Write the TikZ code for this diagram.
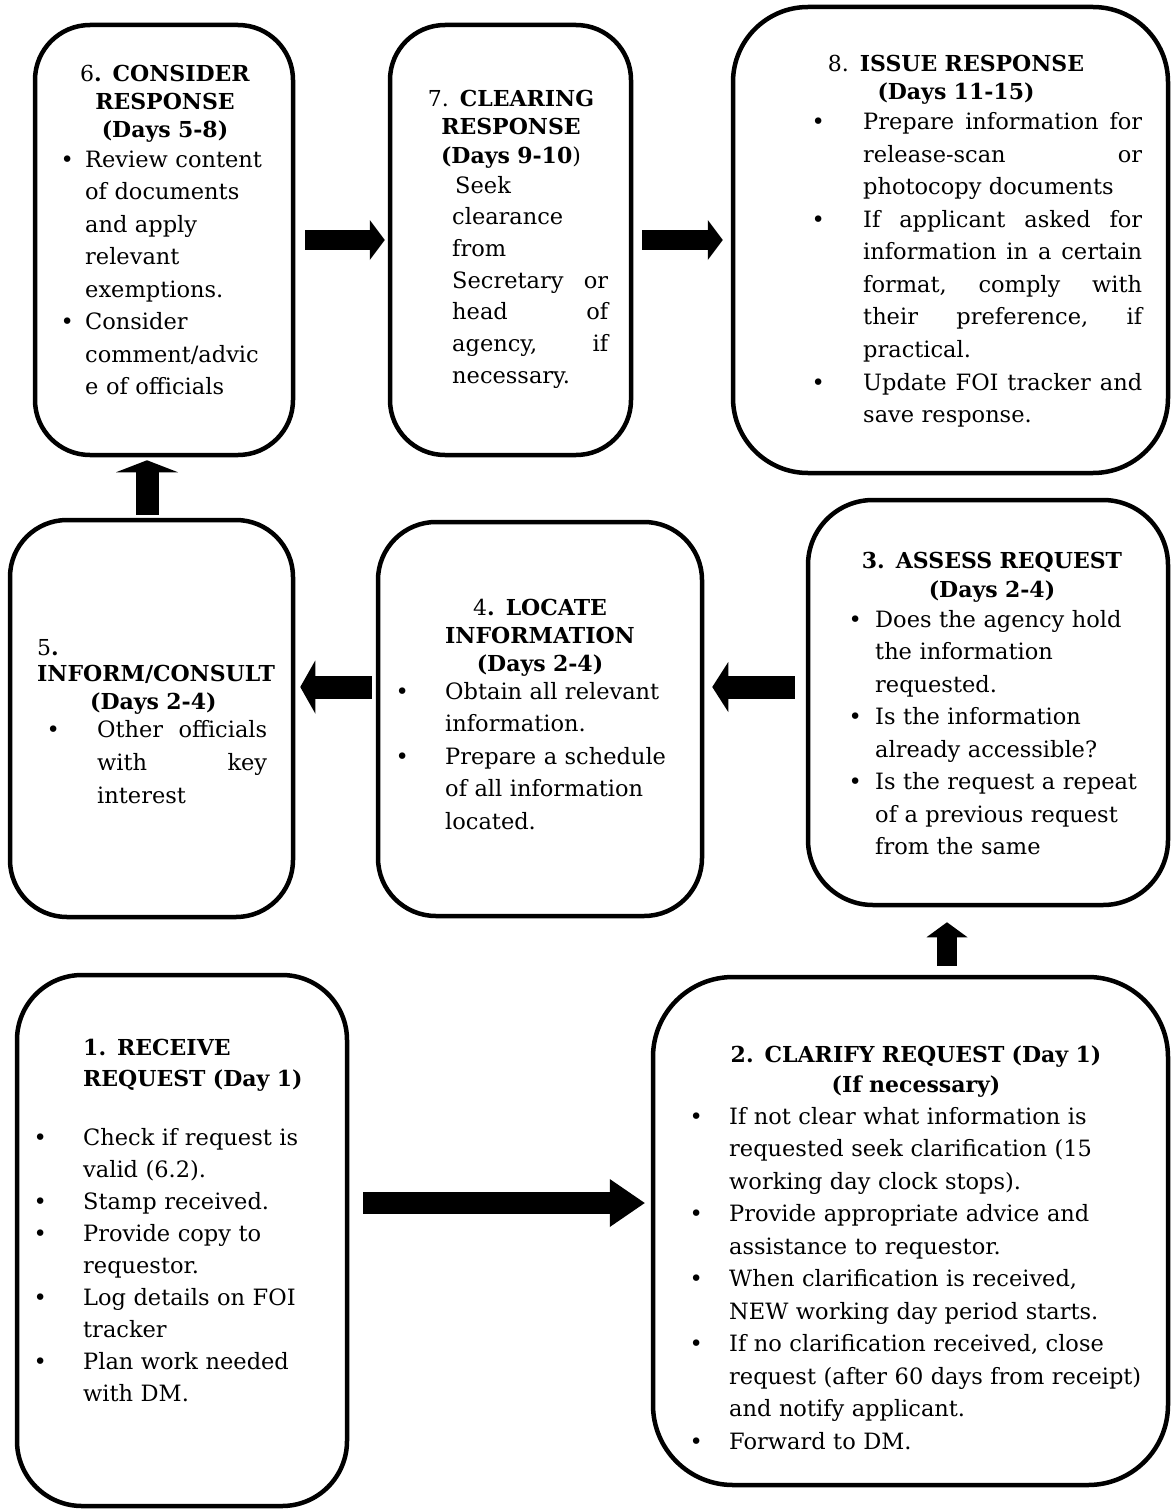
\documentclass[tikz,border=0pt]{standalone}
\usepackage{fontspec}
\setmainfont{DejaVu Serif}
\usetikzlibrary{arrows.meta}

\newcommand{\bodysize}{\fontsize{22.5}{32.5}\selectfont}
\newcommand{\titlesize}{\fontsize{22}{28}\selectfont}
\newcommand{\jline}[2]{\leavevmode\hbox to #1{#2}}
\newcommand{\stepbullet}[1]{\leavevmode\llap{\makebox[0pt]{\textbullet}\hspace{#1}}}

\begin{document}
\begin{tikzpicture}[x=1pt, y=-1pt,
                    stepbox/.style={draw, line width=4.5pt, inner sep=0pt},
                    steptitle/.style={anchor=base, align=center, text width=#1, inner sep=0pt, font=\titlesize},
                    stepbody/.style={anchor=base west, align=left, text width=#1, inner sep=0pt, font=\bodysize},
                    flow arrow/.style n args={3}{line width=#1, -{Triangle[width=#2, length=#3, line width=0pt]}},
                   ]
  \useasboundingbox (0,0) rectangle (1172,1509);

  \node[stepbox, minimum width=258pt, minimum height=430pt, rounded corners=55pt] (consider) at (164, 240) {};
  \node[stepbox, minimum width=241pt, minimum height=430pt, rounded corners=55pt] (clearing) at (510.5, 240) {};
  \node[stepbox, minimum width=435pt, minimum height=466pt, rounded corners=75pt] (issue) at (950.5, 240) {};
  \node[stepbox, minimum width=283pt, minimum height=397pt, rounded corners=57pt] (inform) at (151.5, 718.5) {};
  \node[stepbox, minimum width=324pt, minimum height=394pt, rounded corners=58pt] (locate) at (540, 719) {};
  \node[stepbox, minimum width=360pt, minimum height=405pt, rounded corners=65pt] (assess) at (988, 702.5) {};
  \node[stepbox, minimum width=330pt, minimum height=531pt, rounded corners=65pt] (receive) at (182, 1240.5) {};
  \node[stepbox, minimum width=515pt, minimum height=508pt, rounded corners=80pt] (clarify) at (910.5, 1231) {};

  \node[steptitle=250pt] (consider-title) at (165, 82) {6\textbf{. CONSIDER}\\ \textbf{RESPONSE}\\ \textbf{(Days 5-8)}};
  \node[stepbody=205pt] (consider-text) at (85, 167) {
    \stepbullet{18pt}Review content\\
    of documents\\
    and apply\\
    relevant\\
    exemptions.\\
    \stepbullet{18pt}Consider\\
    comment/advic\\
    e of officials
  };

  \node[steptitle=235pt] (clearing-title) at (511, 107) {7. \textbf{CLEARING}\\ \textbf{RESPONSE}\\ \textbf{(Days 9-10}) };
  \node[stepbody=170pt, font=\fontsize{22.5}{31.7}\selectfont] (clearing-text) at (452, 193) {
    \hspace*{3pt}Seek\\
    clearance\\
    from\\
    \jline{156pt}{Secretary\hfill or}\\
    \jline{156pt}{head\hfill of}\\
    \jline{156pt}{agency,\hfill if}\\
    necessary.
  };

  \node[steptitle=420pt] (issue-title) at (956, 72) {8. \textbf{ISSUE RESPONSE}\\ \textbf{(Days 11-15)}};
  \node[stepbody=290pt] (issue-text) at (863, 130) {
    \stepbullet{45pt}\jline{279pt}{Prepare\hfill information\hfill for}\\
    \jline{279pt}{release-scan\hfill or}\\
    photocopy documents\\
    \stepbullet{45pt}\jline{279pt}{If\hfill applicant\hfill asked\hfill for}\\
    \jline{279pt}{information\hfill in\hfill a\hfill certain}\\
    \jline{279pt}{format,\hfill comply\hfill with}\\
    \jline{279pt}{their\hfill preference,\hfill if}\\
    practical.\\
    \stepbullet{45pt}\jline{279pt}{Update\hfill FOI\hfill tracker\hfill and}\\
    save response.
  };

  \node[steptitle=250pt, anchor=base west, align=left] (inform-title) at (37, 655) {5\textbf{.}\\[-2pt] \textbf{INFORM/CONSULT}\\ \hspace*{53pt}\textbf{(Days 2-4)}};
  \node[stepbody=190pt, font=\fontsize{22.5}{33}\selectfont] (inform-text) at (97, 737) {
    \stepbullet{44pt}\jline{170pt}{Other\hfill officials}\\
    \jline{170pt}{with\hfill key}\\
    interest
  };

  \node[steptitle=310pt] (locate-title) at (540, 615) {4\textbf{. LOCATE}\\ \textbf{INFORMATION}\\ \textbf{(Days 2-4)}};
  \node[stepbody=250pt] (locate-text) at (445, 699) {
    \stepbullet{43pt}Obtain all relevant\\
    information.\\
    \stepbullet{43pt}Prepare a schedule\\
    of all information\\
    located.
  };

  \node[steptitle=340pt] (assess-title) at (992, 568) {\textbf{3. ASSESS REQUEST}\\[1pt] \textbf{(Days 2-4)}};
  \node[stepbody=285pt] (assess-text) at (875, 627) {
    \stepbullet{20pt}Does the agency hold\\
    the information\\
    requested.\\
    \stepbullet{20pt}Is the information\\
    already accessible?\\
    \stepbullet{20pt}Is the request a repeat\\
    of a previous request\\
    from the same
  };

  \node[steptitle=260pt, anchor=base west, align=left] (receive-title) at (83, 1055) {\textbf{1. RECEIVE}\\[3pt] \textbf{REQUEST (Day 1)}};
  \node[stepbody=262pt, font=\fontsize{22.5}{32}\selectfont] (receive-text) at (83, 1145) {
    \stepbullet{43pt}Check if request is\\
    valid (6.2).\\
    \stepbullet{43pt}Stamp received.\\
    \stepbullet{43pt}Provide copy to\\
    requestor.\\
    \stepbullet{43pt}Log details on FOI\\
    tracker\\
    \stepbullet{43pt}Plan work needed\\
    with DM.
  };

  \node[steptitle=500pt] (clarify-title) at (916, 1062) {\textbf{2. CLARIFY REQUEST (Day 1)}\\[2pt] \textbf{(If necessary)}};
  \node[stepbody=435pt] (clarify-text) at (729, 1124) {
    \stepbullet{33pt}If not clear what information is\\
    requested seek clarification (15\\
    working day clock stops).\\
    \stepbullet{33pt}Provide appropriate advice and\\
    assistance to requestor.\\
    \stepbullet{33pt}When clarification is received,\\
    NEW working day period starts.\\
    \stepbullet{33pt}If no clarification received, close\\
    request (after 60 days from receipt)\\
    and notify applicant.\\
    \stepbullet{33pt}Forward to DM.
  };

  \coordinate (a12) at ([yshift=37.5pt]receive.east);
  \coordinate (a23) at ([xshift=36.5pt]clarify.north);
  \coordinate (a34) at ([yshift=15.5pt]assess.west);
  \coordinate (a45) at ([yshift=32pt]locate.west);
  \coordinate (a56) at ([xshift=-4.5pt]inform.north);

  \draw[flow arrow={22pt}{48pt}{35pt}, shorten <=14pt, shorten >=6pt] (a12) -- (a12 -| clarify.west);
  \draw[flow arrow={20pt}{41pt}{15pt}, shorten <=9pt, shorten >=15pt] (a23) -- (a23 |- assess.south);
  \draw[flow arrow={23pt}{50pt}{16pt}, shorten <=11pt, shorten >=8pt] (a34) -- (a34 -| locate.east);
  \draw[flow arrow={23pt}{53pt}{15pt}, shorten <=4pt, shorten >=5pt] (a45) -- (a45 -| inform.east);
  \draw[flow arrow={23pt}{62pt}{12pt}, shorten <=3pt, shorten >=3pt] (a56) -- (a56 |- consider.south);
  \draw[flow arrow={20pt}{40pt}{15pt}, shorten <=10pt, shorten >=3pt] (consider) -- (clearing);
  \draw[flow arrow={20pt}{40pt}{15pt}, shorten <=9pt, shorten >=8pt] (clearing) -- (issue);
\end{tikzpicture}
\end{document}
